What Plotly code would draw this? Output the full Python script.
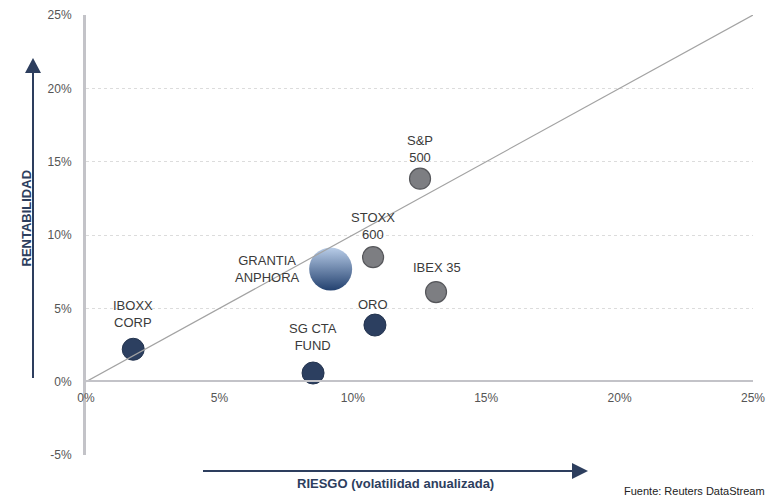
import plotly.graph_objects as go

# Data (percent)
names = ["IBOXX<br>CORP", "SG CTA<br>FUND", "ORO", "GRANTIA<br>ANPHORA", "STOXX<br>600", "IBEX 35", "S&P<br>500"]
riesgo = [1.77, 8.51, 10.83, 9.17, 10.76, 13.12, 12.52]
rentab = [2.21, 0.59, 3.86, 7.68, 8.49, 6.11, 13.84]
groups = ["navy", "navy", "navy", "fund", "gray", "gray", "gray"]
diag_x = [0, 25]
diag_y = [0, 25]
x_ticks = [0, 5, 10, 15, 20, 25]
y_ticks = [-5, 0, 5, 10, 15, 20, 25]

# label offsets (px) relative to the points
label_dx = [0, 0, -2, -63, 0, 1, 0]
label_dy = [35, 36, 21, 0, 31, 25, 30]

FONT = "Liberation Sans, Arial, Helvetica, sans-serif"
NAVY = "#2c3f60"
GRAY = "#7d7e82"

fig = go.Figure()

def sel(g):
    idx = [i for i, gg in enumerate(groups) if gg == g]
    return [riesgo[i] for i in idx], [rentab[i] for i in idx]

gx, gy = sel("gray")
fig.add_trace(go.Scatter(x=gx, y=gy, mode="markers",
                         marker=dict(size=21, color=GRAY, line=dict(color="#55565a", width=1.2)),
                         hoverinfo="skip"))
nx, ny = sel("navy")
fig.add_trace(go.Scatter(x=nx, y=ny, mode="markers",
                         marker=dict(size=22, color=NAVY, line=dict(color="#24344f", width=1)),
                         hoverinfo="skip"))
fx, fy = sel("fund")
fig.add_trace(go.Scatter(x=fx, y=fy, mode="markers",
                         marker=dict(size=43, color="#b9cde8",
                                     gradient=dict(type="vertical", color="#23416f"),
                                     line=dict(width=0)),
                         hoverinfo="skip"))

fig.add_trace(go.Scatter(x=diag_x, y=diag_y, mode="lines",
                         line=dict(color="#a3a3a3", width=1.2), hoverinfo="skip"))

for n, xv, yv, dx, dy in zip(names, riesgo, rentab, label_dx, label_dy):
    fig.add_annotation(x=xv, y=yv, xref="x", yref="y", text=n, showarrow=False,
                       xshift=dx, yshift=dy, align="center",
                       font=dict(family=FONT, size=13, color="#3a3a3a"))

# pixel -> paper helpers
L, T, W, H = 86, 15, 667, 440
def px(v):
    return (v - L) / W
def py(v):
    return (T + H - v) / H

# axis titles
fig.add_annotation(x=px(17), y=py(218), xref="paper", yref="paper", text="<b>RENTABILIDAD</b>",
                   textangle=-90, showarrow=False, font=dict(family=FONT, size=13, color="#2d3e5e"))
fig.add_annotation(x=px(395), y=py(493), xref="paper", yref="paper",
                   text="<b>RIESGO (volatilidad anualizada)</b>",
                   showarrow=False, font=dict(family=FONT, size=13, color="#2d3e5e"))
fig.add_annotation(x=px(622), y=py(499), xref="paper", yref="paper", xanchor="left", yanchor="bottom",
                   text="Fuente: Reuters DataStream", showarrow=False,
                   font=dict(family=FONT, size=11, color="#222222"))

ARROW = "#2d3e5e"
# vertical arrow
fig.add_shape(type="line", xref="paper", yref="paper", x0=px(33), x1=px(33), y0=py(378), y1=py(70),
              line=dict(color=ARROW, width=2))
fig.add_shape(type="path", xref="paper", yref="paper",
              path=f"M {px(25)} {py(73)} L {px(41)} {py(73)} L {px(33)} {py(58)} Z",
              fillcolor=ARROW, line=dict(color=ARROW, width=0))
# horizontal arrow
fig.add_shape(type="line", xref="paper", yref="paper", x0=px(203), x1=px(574), y0=py(471), y1=py(471),
              line=dict(color=ARROW, width=2))
fig.add_shape(type="path", xref="paper", yref="paper",
              path=f"M {px(572)} {py(463)} L {px(572)} {py(479)} L {px(588)} {py(471)} Z",
              fillcolor=ARROW, line=dict(color=ARROW, width=0))

fig.update_layout(
    width=767, height=499,
    margin=dict(l=L, r=767 - L - W, t=T, b=499 - T - H, autoexpand=False),
    paper_bgcolor="white", plot_bgcolor="white",
    showlegend=False,
    font=dict(family=FONT, size=12, color="#555555"),
    xaxis=dict(range=[0, 25], tickvals=x_ticks, ticktext=[f"{v}%" for v in x_ticks],
               showgrid=False, zeroline=False, showline=True, linecolor="#c3c3c8", linewidth=2,
               anchor="free", position=py(381), ticks="outside", ticklen=6, automargin=False,
               tickcolor="rgba(0,0,0,0)", tickfont=dict(size=12, color="#555555")),
    yaxis=dict(range=[-5, 25], tickvals=y_ticks, ticktext=[f"{v}%" for v in y_ticks],
               showgrid=True, gridcolor="#dcdcdc", griddash="dot", gridwidth=1, automargin=False,
               zeroline=False, showline=True, linecolor="#c3c3c8", linewidth=3,
               ticks="outside", ticklen=9, tickcolor="rgba(0,0,0,0)",
               tickfont=dict(size=12, color="#555555")),
)

fig.write_html("out.html", config={"displayModeBar": False},
               post_script="document.body.style.margin='0';document.body.style.overflow='hidden';")
